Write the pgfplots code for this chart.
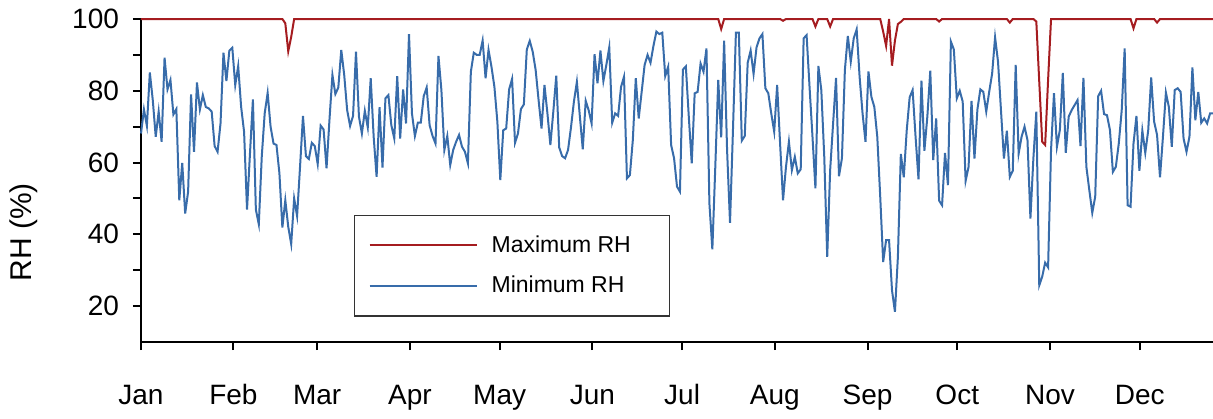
\documentclass[border=0pt]{standalone}
\usepackage{fontspec}
\setmainfont{Liberation Sans}
\usepackage{pgfplots}
\usepackage{pgfplotstable}
\pgfplotsset{compat=1.18}
\definecolor{maxrh}{RGB}{165,28,32}
\definecolor{minrh}{RGB}{56,108,170}

% daily minimum relative humidity (%)
\pgfplotstableread[row sep=\\]{
rh\\
68.1\\74.8\\70.2\\85.1\\77.4\\67.2\\74.2\\65.8\\89.2\\80.4\\83.0\\73.4\\74.9\\49.5\\59.9\\45.8\\51.9\\79.0\\63.0\\82.3\\74.8\\78.8\\75.5\\75.1\\74.2\\64.6\\63.0\\70.9\\90.6\\82.7\\91.2\\92.0\\
81.6\\86.9\\75.5\\68.6\\46.9\\62.5\\77.6\\46.9\\42.8\\61.6\\73.7\\79.4\\70.0\\65.3\\64.9\\57.0\\41.9\\49.5\\42.1\\37.3\\50.0\\45.1\\58.8\\73.0\\61.8\\61.0\\65.5\\64.6\\59.6\\70.3\\
69.2\\58.4\\72.0\\84.4\\79.1\\80.9\\91.4\\84.4\\74.6\\70.2\\73.0\\90.9\\72.8\\68.1\\74.4\\69.8\\83.5\\67.2\\56.0\\75.4\\58.6\\77.9\\78.8\\70.4\\66.7\\84.1\\66.7\\80.4\\70.9\\95.8\\73.7\\
67.4\\71.1\\71.1\\78.5\\80.9\\70.4\\67.4\\65.3\\89.7\\80.2\\63.5\\67.4\\59.3\\63.5\\65.8\\67.7\\64.4\\63.0\\59.8\\85.3\\90.6\\90.0\\90.0\\94.0\\83.5\\91.4\\86.7\\81.1\\71.4\\55.1\\
69.0\\69.5\\80.4\\83.3\\65.5\\68.1\\74.9\\76.2\\91.5\\93.9\\90.9\\85.8\\77.4\\69.5\\81.6\\73.7\\64.9\\74.2\\84.2\\64.2\\61.8\\61.2\\63.5\\69.8\\77.0\\82.5\\73.0\\63.7\\77.2\\74.6\\70.9\\
90.2\\82.1\\91.2\\82.7\\87.2\\92.1\\71.1\\73.7\\73.0\\81.1\\83.9\\55.6\\56.5\\66.3\\83.5\\72.3\\79.7\\87.2\\90.0\\87.8\\92.5\\96.5\\95.8\\96.2\\84.1\\86.7\\64.9\\61.2\\53.3\\51.9\\85.9\\86.8\\
72.8\\59.8\\79.3\\79.7\\87.6\\85.3\\91.8\\48.6\\35.8\\58.8\\83.0\\67.0\\94.0\\63.5\\43.2\\69.1\\96.2\\96.2\\66.1\\67.4\\87.8\\91.2\\84.7\\92.1\\94.6\\95.8\\80.7\\79.3\\73.7\\68.6\\81.6\\
65.3\\49.5\\58.8\\65.8\\57.9\\61.6\\57.0\\58.1\\94.6\\95.5\\81.1\\67.2\\52.8\\86.9\\80.2\\61.6\\33.7\\57.9\\70.9\\83.6\\56.2\\61.2\\85.8\\95.3\\88.1\\94.6\\97.1\\83.9\\73.7\\65.8\\85.4\\
78.3\\75.5\\67.2\\50.5\\32.3\\38.4\\38.4\\24.4\\18.4\\33.7\\62.4\\55.9\\69.0\\78.2\\80.2\\67.2\\55.3\\82.8\\63.3\\72.8\\85.6\\60.7\\72.3\\49.4\\48.1\\62.7\\53.7\\93.7\\91.5\\77.9\\80.0\\
77.0\\54.9\\58.8\\77.2\\61.1\\74.8\\80.4\\79.7\\74.2\\79.7\\84.8\\94.9\\88.1\\74.6\\61.1\\68.9\\56.0\\57.7\\87.2\\62.5\\67.2\\70.0\\66.3\\44.4\\61.1\\74.2\\25.8\\28.2\\32.1\\30.8\\
63.5\\79.3\\64.4\\69.1\\85.0\\62.7\\72.8\\74.6\\76.0\\77.4\\64.6\\83.6\\58.8\\52.3\\46.0\\50.5\\78.5\\80.0\\73.5\\73.2\\69.1\\57.4\\58.8\\65.3\\74.6\\91.8\\48.1\\47.7\\65.3\\73.0\\57.7\\68.9\\
62.7\\69.0\\83.7\\71.4\\67.7\\55.9\\67.2\\79.5\\75.5\\64.4\\80.2\\80.7\\79.7\\66.7\\63.0\\67.2\\86.5\\71.8\\79.7\\71.1\\72.3\\70.9\\73.7\\73.7\\
}\minrhtable

\begin{document}
\begin{tikzpicture}
\useasboundingbox (-70.5pt,-38pt) rectangle (536pt,171pt);
\begin{axis}[
  scale only axis, width=536pt, height=161.5pt,
  anchor=south west, at={(0pt,0pt)},
  xmin=0, xmax=364, ymin=10, ymax=100,
  axis lines=left,
  axis line style={-, line width=1pt, black},
  clip=false,
  xtick={0,31.38,59.82,91.3,121.77,153.26,183.73,215.21,246.7,277.16,308.65,339.12},
  xticklabels={Jan,Feb,Mar,Apr,May,Jun,Jul,Aug,Sep,Oct,Nov,Dec},
  ytick={20,40,60,80,100},
  minor ytick={30,50,70,90},
  tick align=outside,
  major tick length=4pt, minor tick length=4pt,
  tick style={line width=1pt, black},
  /pgf/number format/assume math mode=true,
  ticklabel style={font=\fontsize{14}{16}\selectfont},
  xticklabel style={anchor=base, yshift=-27pt},
  yticklabel style={xshift=-3.5pt},
  ylabel={RH (\%)},
  every axis y label/.style={at={(axis description cs:0,0.34)}, xshift=-58.5pt,
    rotate=90, anchor=center, font=\fontsize{15}{18}\selectfont},
  legend image code/.code={\draw[#1] (0pt,0pt) -- (53.5pt,0pt);},
  legend style={at={(rel axis cs:0.1987,0.3932)}, anchor=north west,
    draw=black!80, line width=0.6pt, inner xsep=7pt, inner ysep=10pt,
    row sep=10.5pt, font=\fontsize{11.5}{13}\selectfont,
    cells={anchor=west}, nodes={inner sep=0pt},
    /tikz/every odd column/.append style={column sep=7pt}},
]
\addplot[maxrh, line width=1pt] coordinates {
  (0,100) (48,100) (49,98.8) (50,91) (51,95) (52,100)
  (196,100) (197,97.2) (198,100)
  (217,100) (218,99.5) (219,100)
  (228,100) (229,97.9) (230,100) (233,100) (234,97.9) (235,100)
  (251,100) (252,96.5) (253,92.5) (254,100) (255,87) (256,94) (257,98.6) (258,99.2) (259,100)
  (270,100) (271,99.3) (272,100)
  (294,100) (295,99) (296,100)
  (303,100) (304,99.3) (305,82.5) (306,65.8) (307,64.9) (308,83) (309,100)
  (336,100) (337,97.4) (338,100)
  (344,100) (345,99) (346,100) (364,100)
};
\addlegendentry{\makebox[82pt][l]{Maximum RH}}
\addplot[minrh, line width=1pt] table[x expr=\coordindex, y=rh] {\minrhtable};
\addlegendentry{\makebox[82pt][l]{Minimum RH}}
\end{axis}
\end{tikzpicture}
\end{document}
